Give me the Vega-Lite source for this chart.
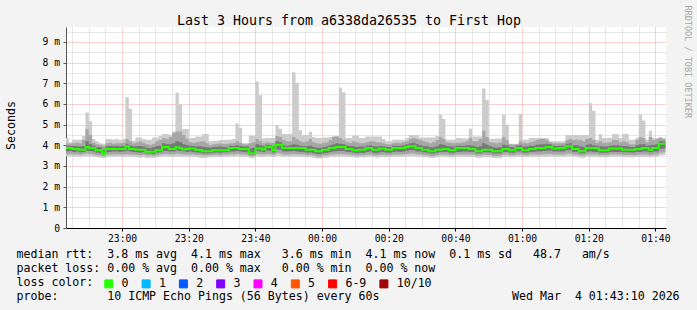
{
"$schema":"https://vega.github.io/schema/vega-lite/v6.json",
"width":600,"height":201,
"autosize":{"type":"none"},
"padding":{"left":66,"top":27,"right":31,"bottom":82},
"background":"#f3f3f3",
"config":{"view":{"fill":"#ffffff","stroke":null},"font":"DejaVu Sans Mono","axis":{"labelFont":"DejaVu Sans Mono","titleFont":"DejaVu Sans Mono","titleFontWeight":"normal"},"legend":{"labelFont":"DejaVu Sans Mono","titleFont":"DejaVu Sans Mono"}},
"data":{"values":[
{"t":"2026-03-03T22:43Z","min":3.46,"p10":3.56,"q1":3.70,"med":3.87,"q3":3.98,"p90":4.10,"max":4.35},
{"t":"2026-03-03T22:44Z","min":3.48,"p10":3.58,"q1":3.72,"med":3.87,"q3":3.97,"p90":4.08,"max":4.15},
{"t":"2026-03-03T22:45Z","min":3.45,"p10":3.55,"q1":3.68,"med":3.82,"q3":3.96,"p90":4.10,"max":4.27},
{"t":"2026-03-03T22:46Z","min":3.47,"p10":3.57,"q1":3.70,"med":3.82,"q3":3.95,"p90":4.12,"max":4.27},
{"t":"2026-03-03T22:47Z","min":3.44,"p10":3.54,"q1":3.66,"med":3.79,"q3":3.94,"p90":4.10,"max":4.27},
{"t":"2026-03-03T22:48Z","min":3.46,"p10":3.58,"q1":3.68,"med":3.79,"q3":3.96,"p90":4.25,"max":4.45},
{"t":"2026-03-03T22:49Z","min":3.48,"p10":3.60,"q1":3.74,"med":3.92,"q3":4.20,"p90":4.79,"max":5.59},
{"t":"2026-03-03T22:50Z","min":3.47,"p10":3.58,"q1":3.72,"med":3.87,"q3":4.05,"p90":4.50,"max":5.16},
{"t":"2026-03-03T22:51Z","min":3.45,"p10":3.56,"q1":3.70,"med":3.87,"q3":3.98,"p90":4.12,"max":4.30},
{"t":"2026-03-03T22:52Z","min":3.42,"p10":3.52,"q1":3.64,"med":3.76,"q3":3.92,"p90":4.05,"max":4.20},
{"t":"2026-03-03T22:53Z","min":3.40,"p10":3.50,"q1":3.62,"med":3.76,"q3":3.90,"p90":4.02,"max":4.10},
{"t":"2026-03-03T22:54Z","min":3.38,"p10":3.47,"q1":3.55,"med":3.59,"q3":3.78,"p90":3.96,"max":4.08},
{"t":"2026-03-03T22:55Z","min":3.42,"p10":3.54,"q1":3.66,"med":3.82,"q3":3.95,"p90":4.10,"max":4.30},
{"t":"2026-03-03T22:56Z","min":3.44,"p10":3.55,"q1":3.68,"med":3.82,"q3":3.96,"p90":4.12,"max":4.30},
{"t":"2026-03-03T22:57Z","min":3.45,"p10":3.56,"q1":3.70,"med":3.82,"q3":3.95,"p90":4.08,"max":4.28},
{"t":"2026-03-03T22:58Z","min":3.46,"p10":3.57,"q1":3.70,"med":3.82,"q3":3.96,"p90":4.10,"max":4.30},
{"t":"2026-03-03T22:59Z","min":3.44,"p10":3.55,"q1":3.68,"med":3.82,"q3":3.95,"p90":4.10,"max":4.25},
{"t":"2026-03-03T23:00Z","min":3.45,"p10":3.56,"q1":3.70,"med":3.82,"q3":3.97,"p90":4.12,"max":4.30},
{"t":"2026-03-03T23:01Z","min":3.46,"p10":3.58,"q1":3.74,"med":3.95,"q3":4.08,"p90":4.30,"max":6.32},
{"t":"2026-03-03T23:02Z","min":3.45,"p10":3.56,"q1":3.70,"med":3.82,"q3":3.98,"p90":4.20,"max":5.77},
{"t":"2026-03-03T23:03Z","min":3.44,"p10":3.55,"q1":3.68,"med":3.82,"q3":3.95,"p90":4.10,"max":4.22},
{"t":"2026-03-03T23:04Z","min":3.42,"p10":3.53,"q1":3.66,"med":3.79,"q3":3.95,"p90":4.15,"max":4.38},
{"t":"2026-03-03T23:05Z","min":3.40,"p10":3.52,"q1":3.64,"med":3.79,"q3":3.96,"p90":4.20,"max":4.38},
{"t":"2026-03-03T23:06Z","min":3.42,"p10":3.54,"q1":3.66,"med":3.79,"q3":3.94,"p90":4.12,"max":4.30},
{"t":"2026-03-03T23:07Z","min":3.38,"p10":3.50,"q1":3.60,"med":3.69,"q3":3.88,"p90":4.05,"max":4.27},
{"t":"2026-03-03T23:08Z","min":3.40,"p10":3.50,"q1":3.60,"med":3.69,"q3":3.86,"p90":4.02,"max":4.27},
{"t":"2026-03-03T23:09Z","min":3.38,"p10":3.48,"q1":3.58,"med":3.69,"q3":3.90,"p90":4.08,"max":4.38},
{"t":"2026-03-03T23:10Z","min":3.42,"p10":3.52,"q1":3.64,"med":3.76,"q3":3.96,"p90":4.20,"max":4.38},
{"t":"2026-03-03T23:11Z","min":3.44,"p10":3.55,"q1":3.66,"med":3.76,"q3":3.98,"p90":4.25,"max":4.45},
{"t":"2026-03-03T23:12Z","min":3.45,"p10":3.58,"q1":3.72,"med":3.92,"q3":4.10,"p90":4.35,"max":4.54},
{"t":"2026-03-03T23:13Z","min":3.46,"p10":3.58,"q1":3.72,"med":3.92,"q3":4.05,"p90":4.30,"max":4.54},
{"t":"2026-03-03T23:14Z","min":3.44,"p10":3.56,"q1":3.70,"med":3.82,"q3":4.05,"p90":4.40,"max":4.50},
{"t":"2026-03-03T23:15Z","min":3.45,"p10":3.57,"q1":3.70,"med":3.82,"q3":4.10,"p90":4.60,"max":4.67},
{"t":"2026-03-03T23:16Z","min":3.46,"p10":3.60,"q1":3.75,"med":3.90,"q3":4.20,"p90":4.67,"max":6.55},
{"t":"2026-03-03T23:17Z","min":3.45,"p10":3.58,"q1":3.72,"med":3.87,"q3":4.15,"p90":4.67,"max":5.98},
{"t":"2026-03-03T23:18Z","min":3.44,"p10":3.56,"q1":3.70,"med":3.80,"q3":4.05,"p90":4.50,"max":4.79},
{"t":"2026-03-03T23:19Z","min":3.44,"p10":3.55,"q1":3.68,"med":3.82,"q3":4.00,"p90":4.30,"max":4.79},
{"t":"2026-03-03T23:20Z","min":3.45,"p10":3.56,"q1":3.70,"med":3.84,"q3":3.98,"p90":4.15,"max":4.35},
{"t":"2026-03-03T23:21Z","min":3.44,"p10":3.55,"q1":3.68,"med":3.84,"q3":3.96,"p90":4.12,"max":4.35},
{"t":"2026-03-03T23:22Z","min":3.42,"p10":3.53,"q1":3.65,"med":3.77,"q3":3.94,"p90":4.15,"max":4.42},
{"t":"2026-03-03T23:23Z","min":3.40,"p10":3.52,"q1":3.64,"med":3.77,"q3":3.95,"p90":4.18,"max":4.42},
{"t":"2026-03-03T23:24Z","min":3.38,"p10":3.50,"q1":3.60,"med":3.71,"q3":3.92,"p90":4.20,"max":4.54},
{"t":"2026-03-03T23:25Z","min":3.40,"p10":3.50,"q1":3.60,"med":3.71,"q3":3.90,"p90":4.10,"max":4.54},
{"t":"2026-03-03T23:26Z","min":3.42,"p10":3.52,"q1":3.62,"med":3.71,"q3":3.88,"p90":4.00,"max":4.20},
{"t":"2026-03-03T23:27Z","min":3.42,"p10":3.53,"q1":3.64,"med":3.76,"q3":3.92,"p90":4.05,"max":4.22},
{"t":"2026-03-03T23:28Z","min":3.43,"p10":3.54,"q1":3.65,"med":3.76,"q3":3.92,"p90":4.08,"max":4.22},
{"t":"2026-03-03T23:29Z","min":3.42,"p10":3.52,"q1":3.64,"med":3.76,"q3":3.94,"p90":4.10,"max":4.25},
{"t":"2026-03-03T23:30Z","min":3.44,"p10":3.55,"q1":3.66,"med":3.76,"q3":3.92,"p90":4.06,"max":4.25},
{"t":"2026-03-03T23:31Z","min":3.43,"p10":3.54,"q1":3.66,"med":3.76,"q3":3.90,"p90":4.05,"max":4.27},
{"t":"2026-03-03T23:32Z","min":3.46,"p10":3.57,"q1":3.70,"med":3.87,"q3":3.98,"p90":4.10,"max":4.27},
{"t":"2026-03-03T23:33Z","min":3.45,"p10":3.56,"q1":3.70,"med":3.87,"q3":3.97,"p90":4.10,"max":4.30},
{"t":"2026-03-03T23:34Z","min":3.47,"p10":3.58,"q1":3.72,"med":3.87,"q3":4.00,"p90":4.20,"max":5.05},
{"t":"2026-03-03T23:35Z","min":3.45,"p10":3.56,"q1":3.70,"med":3.82,"q3":3.96,"p90":4.12,"max":4.85},
{"t":"2026-03-03T23:36Z","min":3.44,"p10":3.55,"q1":3.68,"med":3.82,"q3":3.94,"p90":4.05,"max":4.10},
{"t":"2026-03-03T23:37Z","min":3.43,"p10":3.54,"q1":3.66,"med":3.82,"q3":3.94,"p90":4.05,"max":4.10},
{"t":"2026-03-03T23:38Z","min":3.38,"p10":3.48,"q1":3.56,"med":3.62,"q3":3.85,"p90":4.10,"max":4.47},
{"t":"2026-03-03T23:39Z","min":3.38,"p10":3.48,"q1":3.56,"med":3.62,"q3":3.88,"p90":4.15,"max":4.47},
{"t":"2026-03-03T23:40Z","min":3.46,"p10":3.58,"q1":3.72,"med":3.85,"q3":4.05,"p90":4.30,"max":7.08},
{"t":"2026-03-03T23:41Z","min":3.45,"p10":3.56,"q1":3.70,"med":3.85,"q3":4.00,"p90":4.20,"max":6.42},
{"t":"2026-03-03T23:42Z","min":3.44,"p10":3.55,"q1":3.68,"med":3.80,"q3":3.95,"p90":4.10,"max":4.33},
{"t":"2026-03-03T23:43Z","min":3.46,"p10":3.58,"q1":3.74,"med":3.92,"q3":4.02,"p90":4.15,"max":4.35},
{"t":"2026-03-03T23:44Z","min":3.45,"p10":3.57,"q1":3.72,"med":3.92,"q3":4.00,"p90":4.12,"max":4.35},
{"t":"2026-03-03T23:45Z","min":3.42,"p10":3.53,"q1":3.64,"med":3.76,"q3":3.95,"p90":4.12,"max":4.35},
{"t":"2026-03-03T23:46Z","min":3.48,"p10":3.62,"q1":3.80,"med":4.03,"q3":4.20,"p90":4.45,"max":4.98},
{"t":"2026-03-03T23:47Z","min":3.47,"p10":3.60,"q1":3.78,"med":4.03,"q3":4.15,"p90":4.40,"max":4.80},
{"t":"2026-03-03T23:48Z","min":3.45,"p10":3.56,"q1":3.70,"med":3.87,"q3":4.00,"p90":4.25,"max":4.54},
{"t":"2026-03-03T23:49Z","min":3.44,"p10":3.55,"q1":3.70,"med":3.87,"q3":3.98,"p90":4.20,"max":4.54},
{"t":"2026-03-03T23:50Z","min":3.45,"p10":3.56,"q1":3.70,"med":3.87,"q3":4.00,"p90":4.20,"max":4.54},
{"t":"2026-03-03T23:51Z","min":3.46,"p10":3.58,"q1":3.72,"med":3.87,"q3":4.05,"p90":4.40,"max":7.53},
{"t":"2026-03-03T23:52Z","min":3.45,"p10":3.57,"q1":3.70,"med":3.87,"q3":4.02,"p90":4.30,"max":7.03},
{"t":"2026-03-03T23:53Z","min":3.44,"p10":3.55,"q1":3.68,"med":3.87,"q3":3.98,"p90":4.20,"max":4.73},
{"t":"2026-03-03T23:54Z","min":3.44,"p10":3.55,"q1":3.68,"med":3.87,"q3":3.96,"p90":4.15,"max":4.50},
{"t":"2026-03-03T23:55Z","min":3.42,"p10":3.52,"q1":3.64,"med":3.79,"q3":3.95,"p90":4.20,"max":4.50},
{"t":"2026-03-03T23:56Z","min":3.42,"p10":3.53,"q1":3.65,"med":3.79,"q3":3.98,"p90":4.30,"max":4.65},
{"t":"2026-03-03T23:57Z","min":3.40,"p10":3.50,"q1":3.62,"med":3.79,"q3":3.92,"p90":4.15,"max":4.40},
{"t":"2026-03-03T23:58Z","min":3.36,"p10":3.46,"q1":3.58,"med":3.71,"q3":3.88,"p90":4.10,"max":4.35},
{"t":"2026-03-03T23:59Z","min":3.36,"p10":3.46,"q1":3.58,"med":3.71,"q3":3.88,"p90":4.08,"max":4.35},
{"t":"2026-03-04T00:00Z","min":3.40,"p10":3.50,"q1":3.62,"med":3.79,"q3":3.92,"p90":4.12,"max":4.38},
{"t":"2026-03-04T00:01Z","min":3.40,"p10":3.51,"q1":3.63,"med":3.79,"q3":3.94,"p90":4.15,"max":4.38},
{"t":"2026-03-04T00:02Z","min":3.44,"p10":3.55,"q1":3.68,"med":3.87,"q3":4.00,"p90":4.25,"max":4.40},
{"t":"2026-03-04T00:03Z","min":3.45,"p10":3.56,"q1":3.70,"med":3.87,"q3":4.05,"p90":4.40,"max":4.45},
{"t":"2026-03-04T00:04Z","min":3.46,"p10":3.58,"q1":3.72,"med":3.92,"q3":4.10,"p90":4.42,"max":4.45},
{"t":"2026-03-04T00:05Z","min":3.46,"p10":3.58,"q1":3.72,"med":3.92,"q3":4.08,"p90":4.35,"max":6.79},
{"t":"2026-03-04T00:06Z","min":3.45,"p10":3.57,"q1":3.72,"med":3.92,"q3":4.05,"p90":4.25,"max":6.56},
{"t":"2026-03-04T00:07Z","min":3.44,"p10":3.55,"q1":3.68,"med":3.82,"q3":3.98,"p90":4.15,"max":4.35},
{"t":"2026-03-04T00:08Z","min":3.43,"p10":3.54,"q1":3.67,"med":3.82,"q3":3.96,"p90":4.12,"max":4.35},
{"t":"2026-03-04T00:09Z","min":3.42,"p10":3.52,"q1":3.64,"med":3.76,"q3":3.95,"p90":4.20,"max":4.47},
{"t":"2026-03-04T00:10Z","min":3.40,"p10":3.50,"q1":3.62,"med":3.76,"q3":3.92,"p90":4.15,"max":4.47},
{"t":"2026-03-04T00:11Z","min":3.42,"p10":3.52,"q1":3.64,"med":3.79,"q3":3.94,"p90":4.10,"max":4.35},
{"t":"2026-03-04T00:12Z","min":3.41,"p10":3.52,"q1":3.63,"med":3.79,"q3":3.93,"p90":4.10,"max":4.35},
{"t":"2026-03-04T00:13Z","min":3.44,"p10":3.55,"q1":3.68,"med":3.87,"q3":3.98,"p90":4.15,"max":4.42},
{"t":"2026-03-04T00:14Z","min":3.45,"p10":3.56,"q1":3.70,"med":3.87,"q3":4.00,"p90":4.20,"max":4.42},
{"t":"2026-03-04T00:15Z","min":3.42,"p10":3.52,"q1":3.64,"med":3.79,"q3":3.95,"p90":4.18,"max":4.42},
{"t":"2026-03-04T00:16Z","min":3.40,"p10":3.50,"q1":3.62,"med":3.79,"q3":3.94,"p90":4.15,"max":4.42},
{"t":"2026-03-04T00:17Z","min":3.42,"p10":3.53,"q1":3.66,"med":3.84,"q3":3.96,"p90":4.15,"max":4.42},
{"t":"2026-03-04T00:18Z","min":3.43,"p10":3.54,"q1":3.67,"med":3.84,"q3":3.95,"p90":4.10,"max":4.30},
{"t":"2026-03-04T00:19Z","min":3.42,"p10":3.52,"q1":3.64,"med":3.79,"q3":3.92,"p90":4.05,"max":4.20},
{"t":"2026-03-04T00:20Z","min":3.42,"p10":3.52,"q1":3.64,"med":3.79,"q3":3.92,"p90":4.05,"max":4.20},
{"t":"2026-03-04T00:21Z","min":3.44,"p10":3.55,"q1":3.68,"med":3.87,"q3":3.98,"p90":4.10,"max":4.27},
{"t":"2026-03-04T00:22Z","min":3.45,"p10":3.56,"q1":3.70,"med":3.87,"q3":3.98,"p90":4.12,"max":4.27},
{"t":"2026-03-04T00:23Z","min":3.44,"p10":3.55,"q1":3.68,"med":3.87,"q3":3.98,"p90":4.10,"max":4.27},
{"t":"2026-03-04T00:24Z","min":3.45,"p10":3.56,"q1":3.70,"med":3.87,"q3":4.00,"p90":4.15,"max":4.27},
{"t":"2026-03-04T00:25Z","min":3.46,"p10":3.58,"q1":3.74,"med":3.92,"q3":4.05,"p90":4.20,"max":4.35},
{"t":"2026-03-04T00:26Z","min":3.47,"p10":3.60,"q1":3.76,"med":3.95,"q3":4.10,"p90":4.30,"max":4.50},
{"t":"2026-03-04T00:27Z","min":3.47,"p10":3.60,"q1":3.76,"med":3.95,"q3":4.12,"p90":4.35,"max":4.50},
{"t":"2026-03-04T00:28Z","min":3.45,"p10":3.57,"q1":3.70,"med":3.87,"q3":4.05,"p90":4.30,"max":4.50},
{"t":"2026-03-04T00:29Z","min":3.44,"p10":3.56,"q1":3.70,"med":3.87,"q3":4.00,"p90":4.25,"max":4.38},
{"t":"2026-03-04T00:30Z","min":3.42,"p10":3.53,"q1":3.66,"med":3.79,"q3":3.96,"p90":4.20,"max":4.38},
{"t":"2026-03-04T00:31Z","min":3.42,"p10":3.52,"q1":3.64,"med":3.79,"q3":3.95,"p90":4.15,"max":4.38},
{"t":"2026-03-04T00:32Z","min":3.38,"p10":3.48,"q1":3.60,"med":3.71,"q3":3.90,"p90":4.10,"max":4.38},
{"t":"2026-03-04T00:33Z","min":3.38,"p10":3.48,"q1":3.60,"med":3.71,"q3":3.90,"p90":4.15,"max":4.38},
{"t":"2026-03-04T00:34Z","min":3.42,"p10":3.52,"q1":3.64,"med":3.79,"q3":3.95,"p90":4.25,"max":4.45},
{"t":"2026-03-04T00:35Z","min":3.44,"p10":3.55,"q1":3.68,"med":3.79,"q3":4.05,"p90":4.40,"max":5.48},
{"t":"2026-03-04T00:36Z","min":3.44,"p10":3.55,"q1":3.68,"med":3.82,"q3":4.02,"p90":4.30,"max":5.27},
{"t":"2026-03-04T00:37Z","min":3.43,"p10":3.54,"q1":3.67,"med":3.82,"q3":3.96,"p90":4.15,"max":4.27},
{"t":"2026-03-04T00:38Z","min":3.42,"p10":3.52,"q1":3.64,"med":3.76,"q3":3.94,"p90":4.12,"max":4.27},
{"t":"2026-03-04T00:39Z","min":3.41,"p10":3.52,"q1":3.64,"med":3.76,"q3":3.93,"p90":4.10,"max":4.27},
{"t":"2026-03-04T00:40Z","min":3.44,"p10":3.55,"q1":3.68,"med":3.87,"q3":3.98,"p90":4.12,"max":4.35},
{"t":"2026-03-04T00:41Z","min":3.44,"p10":3.55,"q1":3.68,"med":3.87,"q3":3.98,"p90":4.12,"max":4.35},
{"t":"2026-03-04T00:42Z","min":3.44,"p10":3.56,"q1":3.70,"med":3.87,"q3":3.98,"p90":4.15,"max":4.33},
{"t":"2026-03-04T00:43Z","min":3.45,"p10":3.56,"q1":3.70,"med":3.87,"q3":4.00,"p90":4.20,"max":4.33},
{"t":"2026-03-04T00:44Z","min":3.44,"p10":3.55,"q1":3.68,"med":3.82,"q3":4.00,"p90":4.35,"max":4.80},
{"t":"2026-03-04T00:45Z","min":3.43,"p10":3.54,"q1":3.67,"med":3.82,"q3":3.98,"p90":4.20,"max":4.42},
{"t":"2026-03-04T00:46Z","min":3.40,"p10":3.50,"q1":3.62,"med":3.71,"q3":3.92,"p90":4.20,"max":4.42},
{"t":"2026-03-04T00:47Z","min":3.40,"p10":3.50,"q1":3.62,"med":3.71,"q3":3.95,"p90":4.30,"max":4.42},
{"t":"2026-03-04T00:48Z","min":3.42,"p10":3.54,"q1":3.66,"med":3.79,"q3":4.10,"p90":4.70,"max":6.74},
{"t":"2026-03-04T00:49Z","min":3.42,"p10":3.53,"q1":3.66,"med":3.79,"q3":4.02,"p90":4.40,"max":6.19},
{"t":"2026-03-04T00:50Z","min":3.42,"p10":3.53,"q1":3.65,"med":3.79,"q3":3.95,"p90":4.15,"max":4.32},
{"t":"2026-03-04T00:51Z","min":3.38,"p10":3.48,"q1":3.60,"med":3.71,"q3":3.90,"p90":4.12,"max":4.32},
{"t":"2026-03-04T00:52Z","min":3.38,"p10":3.48,"q1":3.60,"med":3.71,"q3":3.88,"p90":4.10,"max":4.33},
{"t":"2026-03-04T00:53Z","min":3.39,"p10":3.49,"q1":3.60,"med":3.71,"q3":3.90,"p90":4.15,"max":4.33},
{"t":"2026-03-04T00:54Z","min":3.44,"p10":3.55,"q1":3.68,"med":3.82,"q3":4.02,"p90":4.40,"max":5.48},
{"t":"2026-03-04T00:55Z","min":3.44,"p10":3.55,"q1":3.68,"med":3.82,"q3":4.00,"p90":4.25,"max":5.00},
{"t":"2026-03-04T00:56Z","min":3.42,"p10":3.52,"q1":3.64,"med":3.76,"q3":3.92,"p90":4.05,"max":4.08},
{"t":"2026-03-04T00:57Z","min":3.42,"p10":3.52,"q1":3.64,"med":3.76,"q3":3.90,"p90":4.02,"max":4.08},
{"t":"2026-03-04T00:58Z","min":3.44,"p10":3.55,"q1":3.70,"med":3.87,"q3":3.98,"p90":4.05,"max":4.08},
{"t":"2026-03-04T00:59Z","min":3.45,"p10":3.56,"q1":3.70,"med":3.87,"q3":4.00,"p90":4.20,"max":5.53},
{"t":"2026-03-04T01:00Z","min":3.42,"p10":3.52,"q1":3.64,"med":3.76,"q3":3.94,"p90":4.12,"max":4.27},
{"t":"2026-03-04T01:01Z","min":3.42,"p10":3.52,"q1":3.64,"med":3.76,"q3":3.94,"p90":4.10,"max":4.27},
{"t":"2026-03-04T01:02Z","min":3.44,"p10":3.55,"q1":3.68,"med":3.82,"q3":3.98,"p90":4.15,"max":4.35},
{"t":"2026-03-04T01:03Z","min":3.44,"p10":3.55,"q1":3.68,"med":3.82,"q3":3.98,"p90":4.18,"max":4.35},
{"t":"2026-03-04T01:04Z","min":3.45,"p10":3.56,"q1":3.70,"med":3.87,"q3":4.02,"p90":4.25,"max":4.35},
{"t":"2026-03-04T01:05Z","min":3.45,"p10":3.56,"q1":3.70,"med":3.87,"q3":4.05,"p90":4.30,"max":4.35},
{"t":"2026-03-04T01:06Z","min":3.45,"p10":3.57,"q1":3.72,"med":3.87,"q3":4.05,"p90":4.30,"max":4.35},
{"t":"2026-03-04T01:07Z","min":3.46,"p10":3.58,"q1":3.74,"med":3.92,"q3":4.08,"p90":4.25,"max":4.35},
{"t":"2026-03-04T01:08Z","min":3.46,"p10":3.58,"q1":3.74,"med":3.92,"q3":4.05,"p90":4.15,"max":4.20},
{"t":"2026-03-04T01:09Z","min":3.45,"p10":3.56,"q1":3.70,"med":3.84,"q3":3.98,"p90":4.10,"max":4.20},
{"t":"2026-03-04T01:10Z","min":3.44,"p10":3.55,"q1":3.70,"med":3.84,"q3":3.96,"p90":4.10,"max":4.20},
{"t":"2026-03-04T01:11Z","min":3.45,"p10":3.56,"q1":3.70,"med":3.87,"q3":3.98,"p90":4.10,"max":4.20},
{"t":"2026-03-04T01:12Z","min":3.45,"p10":3.56,"q1":3.70,"med":3.87,"q3":3.98,"p90":4.10,"max":4.20},
{"t":"2026-03-04T01:13Z","min":3.47,"p10":3.60,"q1":3.76,"med":3.95,"q3":4.08,"p90":4.25,"max":4.50},
{"t":"2026-03-04T01:14Z","min":3.47,"p10":3.60,"q1":3.76,"med":3.95,"q3":4.10,"p90":4.30,"max":4.50},
{"t":"2026-03-04T01:15Z","min":3.44,"p10":3.55,"q1":3.68,"med":3.82,"q3":4.00,"p90":4.25,"max":4.50},
{"t":"2026-03-04T01:16Z","min":3.43,"p10":3.54,"q1":3.67,"med":3.82,"q3":4.00,"p90":4.28,"max":4.50},
{"t":"2026-03-04T01:17Z","min":3.40,"p10":3.50,"q1":3.62,"med":3.71,"q3":3.95,"p90":4.25,"max":4.50},
{"t":"2026-03-04T01:18Z","min":3.40,"p10":3.50,"q1":3.62,"med":3.71,"q3":3.92,"p90":4.20,"max":4.50},
{"t":"2026-03-04T01:19Z","min":3.44,"p10":3.55,"q1":3.68,"med":3.87,"q3":4.02,"p90":4.30,"max":4.50},
{"t":"2026-03-04T01:20Z","min":3.45,"p10":3.56,"q1":3.70,"med":3.87,"q3":4.05,"p90":4.35,"max":6.03},
{"t":"2026-03-04T01:21Z","min":3.44,"p10":3.55,"q1":3.68,"med":3.87,"q3":4.00,"p90":4.25,"max":5.67},
{"t":"2026-03-04T01:22Z","min":3.44,"p10":3.55,"q1":3.68,"med":3.87,"q3":3.98,"p90":4.12,"max":4.27},
{"t":"2026-03-04T01:23Z","min":3.42,"p10":3.52,"q1":3.64,"med":3.76,"q3":3.95,"p90":4.20,"max":4.54},
{"t":"2026-03-04T01:24Z","min":3.42,"p10":3.52,"q1":3.64,"med":3.76,"q3":3.94,"p90":4.12,"max":4.35},
{"t":"2026-03-04T01:25Z","min":3.41,"p10":3.52,"q1":3.64,"med":3.76,"q3":3.94,"p90":4.12,"max":4.35},
{"t":"2026-03-04T01:26Z","min":3.44,"p10":3.55,"q1":3.68,"med":3.85,"q3":3.98,"p90":4.15,"max":4.35},
{"t":"2026-03-04T01:27Z","min":3.44,"p10":3.55,"q1":3.68,"med":3.85,"q3":4.00,"p90":4.25,"max":4.54},
{"t":"2026-03-04T01:28Z","min":3.44,"p10":3.55,"q1":3.68,"med":3.85,"q3":4.00,"p90":4.25,"max":4.54},
{"t":"2026-03-04T01:29Z","min":3.44,"p10":3.55,"q1":3.68,"med":3.85,"q3":3.98,"p90":4.15,"max":4.35},
{"t":"2026-03-04T01:30Z","min":3.42,"p10":3.53,"q1":3.66,"med":3.79,"q3":3.96,"p90":4.20,"max":4.54},
{"t":"2026-03-04T01:31Z","min":3.42,"p10":3.53,"q1":3.66,"med":3.79,"q3":3.95,"p90":4.15,"max":4.54},
{"t":"2026-03-04T01:32Z","min":3.42,"p10":3.53,"q1":3.65,"med":3.79,"q3":3.92,"p90":4.05,"max":4.27},
{"t":"2026-03-04T01:33Z","min":3.42,"p10":3.52,"q1":3.65,"med":3.79,"q3":3.92,"p90":4.05,"max":4.27},
{"t":"2026-03-04T01:34Z","min":3.43,"p10":3.54,"q1":3.67,"med":3.82,"q3":4.00,"p90":4.25,"max":4.35},
{"t":"2026-03-04T01:35Z","min":3.44,"p10":3.55,"q1":3.68,"med":3.82,"q3":4.05,"p90":4.40,"max":5.48},
{"t":"2026-03-04T01:36Z","min":3.44,"p10":3.55,"q1":3.70,"med":3.87,"q3":4.05,"p90":4.35,"max":5.20},
{"t":"2026-03-04T01:37Z","min":3.44,"p10":3.55,"q1":3.70,"med":3.87,"q3":3.98,"p90":4.15,"max":4.27},
{"t":"2026-03-04T01:38Z","min":3.42,"p10":3.53,"q1":3.66,"med":3.79,"q3":4.00,"p90":4.40,"max":4.70},
{"t":"2026-03-04T01:39Z","min":3.44,"p10":3.56,"q1":3.70,"med":3.87,"q3":4.02,"p90":4.25,"max":4.35},
{"t":"2026-03-04T01:40Z","min":3.44,"p10":3.56,"q1":3.70,"med":3.87,"q3":4.05,"p90":4.30,"max":4.35},
{"t":"2026-03-04T01:41Z","min":3.50,"p10":3.64,"q1":3.82,"med":4.08,"q3":4.20,"p90":4.35,"max":4.40},
{"t":"2026-03-04T01:42Z","min":3.52,"p10":3.66,"q1":3.84,"med":4.08,"q3":4.18,"p90":4.30,"max":4.35},
{"t":"2026-03-04T01:43Z","min":3.52,"p10":3.66,"q1":3.84,"med":4.08,"q3":4.18,"p90":4.30,"max":4.35}
]},
"layer":[
{"mark":{"type":"area","interpolate":"step-after","color":"#cccccc","clip":true},
 "encoding":{
  "x":{"field":"t","type":"temporal",
   "scale":{"type":"utc","domain":[{"year":2026,"month":3,"date":3,"hours":22,"minutes":43,"seconds":10,"utc":true},{"year":2026,"month":3,"date":4,"hours":1,"minutes":43,"seconds":10,"utc":true}]},
   "axis":{"orient":"top","values":[
    {"year":2026,"month":3,"date":3,"hours":22,"minutes":45,"utc":true},
    {"year":2026,"month":3,"date":3,"hours":22,"minutes":50,"utc":true},
    {"year":2026,"month":3,"date":3,"hours":22,"minutes":55,"utc":true},
    {"year":2026,"month":3,"date":3,"hours":23,"minutes":5,"utc":true},
    {"year":2026,"month":3,"date":3,"hours":23,"minutes":10,"utc":true},
    {"year":2026,"month":3,"date":3,"hours":23,"minutes":15,"utc":true},
    {"year":2026,"month":3,"date":3,"hours":23,"minutes":25,"utc":true},
    {"year":2026,"month":3,"date":3,"hours":23,"minutes":30,"utc":true},
    {"year":2026,"month":3,"date":3,"hours":23,"minutes":35,"utc":true},
    {"year":2026,"month":3,"date":3,"hours":23,"minutes":45,"utc":true},
    {"year":2026,"month":3,"date":3,"hours":23,"minutes":50,"utc":true},
    {"year":2026,"month":3,"date":3,"hours":23,"minutes":55,"utc":true},
    {"year":2026,"month":3,"date":4,"hours":0,"minutes":5,"utc":true},
    {"year":2026,"month":3,"date":4,"hours":0,"minutes":10,"utc":true},
    {"year":2026,"month":3,"date":4,"hours":0,"minutes":15,"utc":true},
    {"year":2026,"month":3,"date":4,"hours":0,"minutes":25,"utc":true},
    {"year":2026,"month":3,"date":4,"hours":0,"minutes":30,"utc":true},
    {"year":2026,"month":3,"date":4,"hours":0,"minutes":35,"utc":true},
    {"year":2026,"month":3,"date":4,"hours":0,"minutes":45,"utc":true},
    {"year":2026,"month":3,"date":4,"hours":0,"minutes":50,"utc":true},
    {"year":2026,"month":3,"date":4,"hours":0,"minutes":55,"utc":true},
    {"year":2026,"month":3,"date":4,"hours":1,"minutes":5,"utc":true},
    {"year":2026,"month":3,"date":4,"hours":1,"minutes":10,"utc":true},
    {"year":2026,"month":3,"date":4,"hours":1,"minutes":15,"utc":true},
    {"year":2026,"month":3,"date":4,"hours":1,"minutes":25,"utc":true},
    {"year":2026,"month":3,"date":4,"hours":1,"minutes":30,"utc":true},
    {"year":2026,"month":3,"date":4,"hours":1,"minutes":35,"utc":true}],
    "grid":true,"gridColor":"#cfcfcf","gridDash":[1,1],"labels":false,"ticks":false,"domain":false,
    "title":"Last 3 Hours from a6338da26535 to First Hop","titleX":282.5,"titleY":-3,"titleAlign":"center","titleBaseline":"alphabetic","titleAngle":0,"titleFontSize":13.3,"titleColor":"#000000","titleLimit":1000}},
  "y":{"field":"min","type":"quantitative","scale":{"domain":[0,9.72],"nice":false,"zero":true},
   "axis":{"orient":"right","values":[0.5,1.5,2.5,3.5,4.5,5.5,6.5,7.5,8.5,9.5],"grid":true,"gridColor":"#cfcfcf","gridDash":[1,1],"labels":false,"ticks":false,"domain":false,
    "title":"RRDTOOL / TOBI OETIKER","titleAngle":90,"titleX":18,"titleY":-22,"titleAlign":"left","titleBaseline":"alphabetic","titleFontSize":8.5,"titleColor":"#a8a8a8","titleLimit":1000}},
  "y2":{"field":"max"}}},
{"mark":{"type":"area","interpolate":"step-after","color":"#a6a6a6","clip":true},
 "encoding":{"x":{"field":"t","type":"temporal","axis":null},"y":{"field":"p10","type":"quantitative","axis":null},"y2":{"field":"p90"}}},
{"mark":{"type":"area","interpolate":"step-after","color":"#777777","clip":true},
 "encoding":{"x":{"field":"t","type":"temporal","axis":null},"y":{"field":"q1","type":"quantitative","axis":null},"y2":{"field":"q3"}}},
{"mark":{"type":"line","interpolate":"step-after","strokeWidth":2,"clip":true},
 "encoding":{
  "x":{"field":"t","type":"temporal",
   "axis":{"orient":"bottom","values":[
    {"year":2026,"month":3,"date":3,"hours":23,"minutes":0,"utc":true},
    {"year":2026,"month":3,"date":3,"hours":23,"minutes":20,"utc":true},
    {"year":2026,"month":3,"date":3,"hours":23,"minutes":40,"utc":true},
    {"year":2026,"month":3,"date":4,"hours":0,"minutes":0,"utc":true},
    {"year":2026,"month":3,"date":4,"hours":0,"minutes":20,"utc":true},
    {"year":2026,"month":3,"date":4,"hours":0,"minutes":40,"utc":true},
    {"year":2026,"month":3,"date":4,"hours":1,"minutes":0,"utc":true},
    {"year":2026,"month":3,"date":4,"hours":1,"minutes":20,"utc":true},
    {"year":2026,"month":3,"date":4,"hours":1,"minutes":40,"utc":true}],
    "labelExpr":"utcFormat(datum.value, '%H:%M')","labelFlush":false,"labelOverlap":false,
    "grid":true,"gridColor":"#f4a0a0","gridDash":[1,1],"domainColor":"#000000","domainWidth":1,"tickColor":"#000000","tickSize":3,"labelPadding":2.5,"labelFontSize":9.7,"labelColor":"#000000",
    "title":["median rtt:\u00a0\u00a03.8 ms avg\u00a0\u00a04.1 ms max\u00a0\u00a0\u00a03.6 ms min\u00a0\u00a04.1 ms now\u00a0\u00a00.1 ms sd\u00a0\u00a0\u00a048.7\u00a0\u00a0\u00a0am/s","packet loss: 0.00 % avg\u00a0\u00a00.00 % max\u00a0\u00a0\u00a00.00 % min\u00a0\u00a00.00 % now","loss color:","probe:\u00a0\u00a0\u00a0\u00a0\u00a0\u00a0\u00a010 ICMP Echo Pings (56 Bytes) every 60s\u00a0\u00a0\u00a0\u00a0\u00a0\u00a0\u00a0\u00a0\u00a0\u00a0\u00a0\u00a0\u00a0\u00a0\u00a0\u00a0\u00a0\u00a0\u00a0Wed Mar\u00a0\u00a04 01:43:10 2026"],
    "titleX":-50,"titleY":29.5,"titleAlign":"left","titleAnchor":"start","titleBaseline":"alphabetic","titleAngle":0,"titleFontSize":11.6,"titleLineHeight":13.9,"titleColor":"#000000","titleLimit":2000}},
  "y":{"field":"med","type":"quantitative",
   "axis":{"orient":"left","values":[0,1,2,3,4,5,6,7,8,9],"labelExpr":"datum.value == 0 ? '0' : datum.value + ' m'",
    "grid":true,"gridColor":"#f4a0a0","gridDash":[1,1],"domainColor":"#555555","tickColor":"#555555","tickSize":3,"labelPadding":3.5,"labelFontSize":9.7,"labelColor":"#000000",
    "title":"Seconds","titleX":-52,"titleY":98,"titleAngle":270,"titleAlign":"center","titleBaseline":"alphabetic","titleFontSize":11.6,"titleColor":"#000000"}},
  "color":{"datum":"0","type":"nominal",
   "scale":{"domain":["0","1","2","3","4","5","6-9","10/10"],"range":["#26ff00","#00b8ff","#0059ff","#7e00ff","#ff00ff","#ff5500","#ff0000","#a10000"]},
   "legend":{"title":null,"orient":"none","legendX":37,"legendY":251,"direction":"horizontal","columns":8,"symbolType":"square","symbolSize":64,"symbolStrokeWidth":1,"symbolStrokeColor":"#000000","labelFontSize":11.6,"labelColor":"#000000","labelOffset":7,"columnPadding":10.3,"padding":0,
    "encode":{"symbols":{"update":{"fill":{"scale":"color","field":"value"},"stroke":{"value":"#000000"},"strokeWidth":{"value":1},"opacity":{"value":1}}}}}}}}
],
"resolve":{"axis":{"x":"independent","y":"independent"}}
}
